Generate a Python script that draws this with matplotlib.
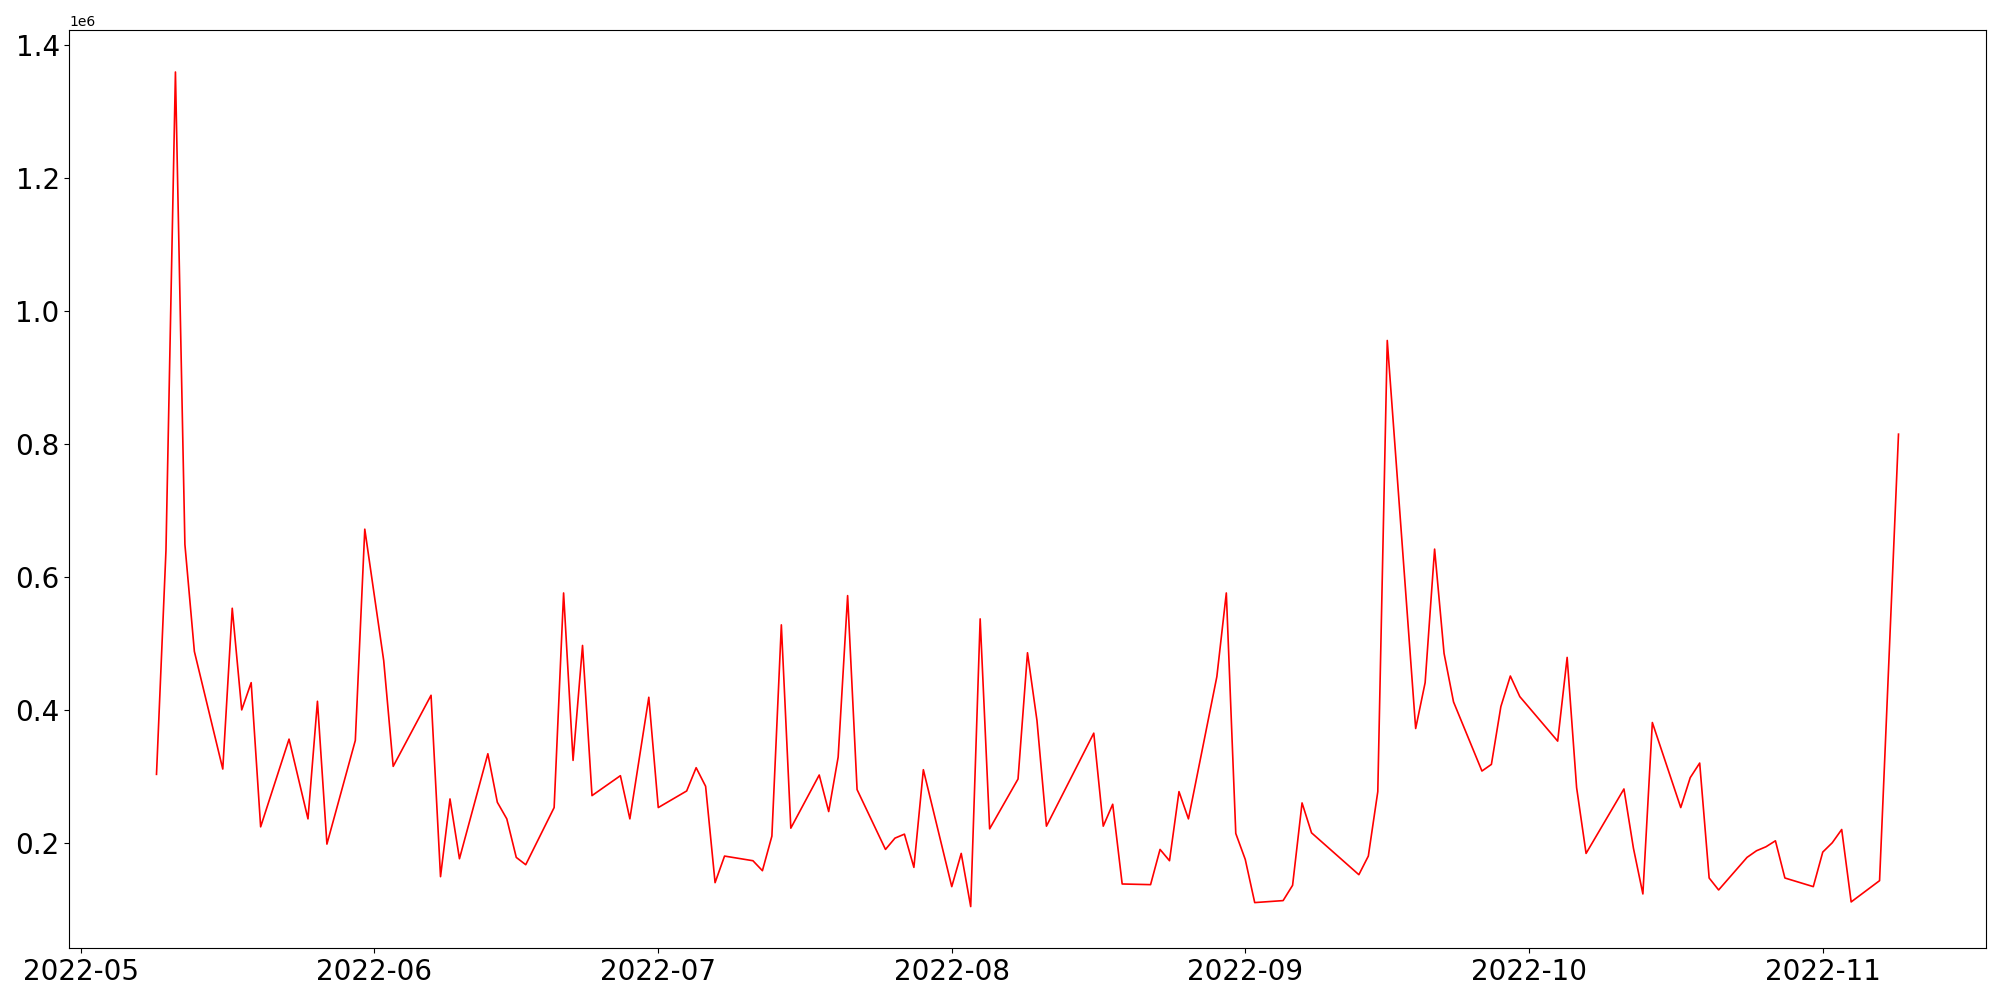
import matplotlib
matplotlib.use("Agg")
import matplotlib.pyplot as plt
import numpy as np
import pandas as pd

# daily values (only the visible vertices)
dates = [
    "2022-05-09", "2022-05-10", "2022-05-11", "2022-05-12", "2022-05-13",
    "2022-05-16", "2022-05-17", "2022-05-18", "2022-05-19", "2022-05-20",
    "2022-05-23", "2022-05-25", "2022-05-26", "2022-05-27",
    "2022-05-30", "2022-05-31", "2022-06-02", "2022-06-03",
    "2022-06-07", "2022-06-08", "2022-06-09", "2022-06-10",
    "2022-06-13", "2022-06-14", "2022-06-15", "2022-06-16", "2022-06-17",
    "2022-06-20", "2022-06-21", "2022-06-22", "2022-06-23", "2022-06-24",
    "2022-06-27", "2022-06-28", "2022-06-30", "2022-07-01",
    "2022-07-04", "2022-07-05", "2022-07-06", "2022-07-07", "2022-07-08",
    "2022-07-11", "2022-07-12", "2022-07-13", "2022-07-14", "2022-07-15",
    "2022-07-18", "2022-07-19", "2022-07-20", "2022-07-21", "2022-07-22",
    "2022-07-25", "2022-07-26", "2022-07-27", "2022-07-28", "2022-07-29",
    "2022-08-01", "2022-08-02", "2022-08-03", "2022-08-04", "2022-08-05",
    "2022-08-08", "2022-08-09", "2022-08-10", "2022-08-11",
    "2022-08-16", "2022-08-17", "2022-08-18", "2022-08-19",
    "2022-08-22", "2022-08-23", "2022-08-24", "2022-08-25", "2022-08-26",
    "2022-08-29", "2022-08-30", "2022-08-31", "2022-09-01", "2022-09-02",
    "2022-09-05", "2022-09-06", "2022-09-07", "2022-09-08",
    "2022-09-13", "2022-09-14", "2022-09-15", "2022-09-16",
    "2022-09-19", "2022-09-20", "2022-09-21", "2022-09-22", "2022-09-23",
    "2022-09-26", "2022-09-27", "2022-09-28", "2022-09-29", "2022-09-30",
    "2022-10-04", "2022-10-05", "2022-10-06", "2022-10-07",
    "2022-10-11", "2022-10-12", "2022-10-13", "2022-10-14",
    "2022-10-17", "2022-10-18", "2022-10-19", "2022-10-20", "2022-10-21",
    "2022-10-24", "2022-10-25", "2022-10-26", "2022-10-27", "2022-10-28",
    "2022-10-31", "2022-11-01", "2022-11-02", "2022-11-03", "2022-11-04",
    "2022-11-07", "2022-11-09",
]

values = [
    303000, 640000, 1360000, 649000, 488000,
    311000, 553000, 400000, 441000, 224000,
    356000, 236000, 413000, 198000,
    354000, 672000, 474000, 315000,
    422000, 149000, 266000, 176000,
    334000, 261000, 236000, 178000, 167000,
    253000, 576000, 324000, 497000, 271000,
    301000, 236000, 419000, 253000,
    278000, 313000, 285000, 140000, 180000,
    173000, 158000, 210000, 528000, 222000,
    302000, 247000, 329000, 572000, 280000,
    190000, 207000, 213000, 163000, 310000,
    134000, 184000, 104000, 537000, 221000,
    296000, 486000, 384000, 225000,
    365000, 225000, 258000, 138000,
    137000, 190000, 173000, 277000, 236000,
    450000, 576000, 214000, 175000, 110000,
    113000, 136000, 260000, 215000,
    152000, 180000, 277000, 956000,
    372000, 441000, 642000, 485000, 412000,
    308000, 318000, 405000, 451000, 420000,
    353000, 479000, 283000, 184000,
    281000, 192000, 123000, 381000,
    253000, 298000, 320000, 147000, 129000,
    178000, 188000, 194000, 203000, 147000,
    134000, 186000, 200000, 220000, 111000,
    143000, 815000,
]

x = pd.to_datetime(dates)

fig, ax = plt.subplots(figsize=(20, 10), dpi=100)
ax.plot(x, values, color='red', linewidth=1.2)
ax.tick_params(axis='both', labelsize=20)
fig.subplots_adjust(left=0.0347, right=0.9928, top=0.9697, bottom=0.0517)
plt.savefig('out.png')
